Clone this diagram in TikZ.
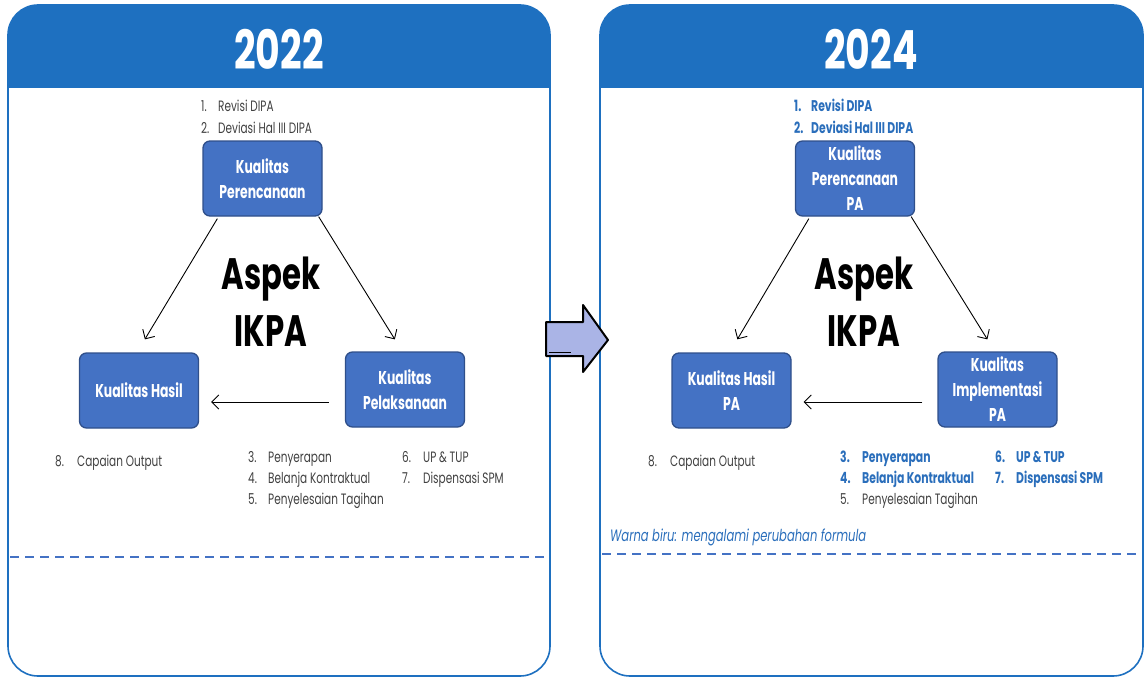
\documentclass[tikz,border=0pt]{standalone}
\usepackage{fontspec}
\setmainfont{Poppins}[FakeStretch=0.7]
\newfontfamily\boxfont{Poppins}[FakeStretch=0.67]
\usetikzlibrary{arrows.meta,positioning,calc}

\definecolor{hdrblue}{HTML}{1E70C0}
\definecolor{boxfill}{HTML}{4472C4}
\definecolor{boxline}{HTML}{2F4F8A}
\definecolor{listgray}{HTML}{404040}
\definecolor{hiblue}{HTML}{2A6EBB}
\definecolor{arrfill}{HTML}{AAB4E6}

\newcommand{\nb}[2][20pt]{\makebox[#1][l]{#2}}

\tikzset{
  panel/.style={draw=hdrblue, line width=1.6pt, rounded corners=30pt},
  kbox/.style={draw=boxline, fill=boxfill, line width=1.3pt, rounded corners=7pt,
    minimum width=119pt, minimum height=75pt, inner sep=0pt, text=white,
    align=center, font=\boxfont\fontsize{18.5}{25}\selectfont\bfseries},
  arr/.style={-{Straight Barb[length=7pt,width=14pt]}, line width=0.9pt},
  itm/.style={anchor=base west, inner sep=0pt, text=listgray, font=\fontsize{15}{21}\selectfont},
  hitm/.style={itm, text=hiblue, font=\fontsize{15.5}{21}\selectfont\bfseries},
  year/.style={text=white, font=\fontsize{54}{60}\selectfont\bfseries},
  aspek/.style={align=center, font=\fontsize{44}{57}\selectfont\bfseries},
  sep/.style={draw=boxfill, line width=1.8pt, dash pattern=on 9pt off 6pt},
}

\begin{document}
\begin{tikzpicture}[x=1pt,y=-1pt]
\useasboundingbox (0,0) rectangle (1145,677);

% panels
\begin{scope}
  \clip[rounded corners=30pt] (8,5) rectangle (550,676);
  \fill[hdrblue] (8,5) rectangle (550,88);
\end{scope}
\draw[panel] (8,5) rectangle (550,676);
\begin{scope}
  \clip[rounded corners=30pt] (600,5) rectangle (1143,676);
  \fill[hdrblue] (600,5) rectangle (1143,88);
\end{scope}
\draw[panel] (600,5) rectangle (1143,676);

\node[year] (yearA) at (279,49) {2022};
\node[year] (yearB) at (871,49) {2024};

% 2022
\node[kbox] (planA) at (262.5,178.5) {Kualitas\\Perencanaan};
\node[kbox] (hasilA) at (139,390.5) {Kualitas Hasil};
\node[kbox] (pelakA) at (405,389.5) {Kualitas\\Pelaksanaan};
\node[aspek] (aspekA) at (271,302) {Aspek\\IKPA};

\draw[arr] ([xshift=15pt,yshift=-2pt]planA.south west) -- ([xshift=66pt,yshift=13pt]hasilA.north west);
\draw[arr] ([xshift=-4pt]planA.south east) -- ([xshift=50pt,yshift=12pt]pelakA.north west);
\draw[arr] ([xshift=-16pt,yshift=-12.5pt]pelakA.west) -- ([xshift=12pt,yshift=-11.5pt]hasilA.east);

\node[itm] (i1A) at (201,111) {\nb[17pt]{1.}Revisi DIPA};
\node[itm] (i2A) at (201,133) {\nb[17pt]{2.}Deviasi Hal III DIPA};
\node[itm] (i8A) at (55,466) {\nb[22pt]{8.}Capaian Output};
\node[itm] (i3A) at (248,462) {\nb{3.}Penyerapan};
\node[itm] (i4A) at (248,483) {\nb{4.}Belanja Kontraktual};
\node[itm] (i5A) at (248,504) {\nb{5.}Penyelesaian Tagihan};
\node[itm] (i6A) at (402,462) {\nb[21pt]{6.}UP \& TUP};
\node[itm] (i7A) at (402,483) {\nb[21pt]{7.}Dispensasi SPM};

\draw[sep] (10,557) -- (548,557);

% 2024
\node[kbox] (planB) at (855,178.5) {Kualitas\\Perencanaan\\PA};
\node[kbox] (hasilB) at (731.5,390.5) {Kualitas Hasil\\PA};
\node[kbox] (implB) at (997.5,389.5) {Kualitas\\Implementasi\\PA};
\node[aspek] (aspekB) at (864,302) {Aspek\\IKPA};

\draw[arr] ([xshift=14pt,yshift=-2pt]planB.south west) -- ([xshift=66pt,yshift=13pt]hasilB.north west);
\draw[arr] ([xshift=-4pt]planB.south east) -- ([xshift=50pt,yshift=12pt]implB.north west);
\draw[arr] ([xshift=-15pt,yshift=-12.5pt]implB.west) -- ([xshift=12pt,yshift=-11.5pt]hasilB.east);

\node[hitm] (i1B) at (794,111) {\nb[17pt]{1.}Revisi DIPA};
\node[hitm] (i2B) at (794,133) {\nb[17pt]{2.}Deviasi Hal III DIPA};
\node[itm] (i8B) at (648,466) {\nb[22pt]{8.}Capaian Output};
\node[hitm] (i3B) at (840,462) {\nb[22pt]{3.}Penyerapan};
\node[hitm] (i4B) at (840,483) {\nb[22pt]{4.}Belanja Kontraktual};
\node[itm] (i5B) at (840,504) {\nb[22pt]{5.}Penyelesaian Tagihan};
\node[hitm] (i6B) at (995,462) {\nb[21pt]{6.}UP \& TUP};
\node[hitm] (i7B) at (995,483) {\nb[21pt]{7.}Dispensasi SPM};
\node[itm, text=hiblue, font=\fontsize{16.5}{21}\selectfont\itshape] (noteB) at (610,541) {Warna biru: mengalami perubahan formula};

\draw[sep] (602,554) -- (1141,554);

% arrow between the years
\draw[fill=arrfill, line width=2pt, line join=round]
  (546,322) -- (583,322) -- (583,305) -- (608,340) -- (583,372) -- (583,356) -- (546,356) -- cycle;
\draw[line width=1pt] (549,352) -- (571,352);
\end{tikzpicture}
\end{document}
